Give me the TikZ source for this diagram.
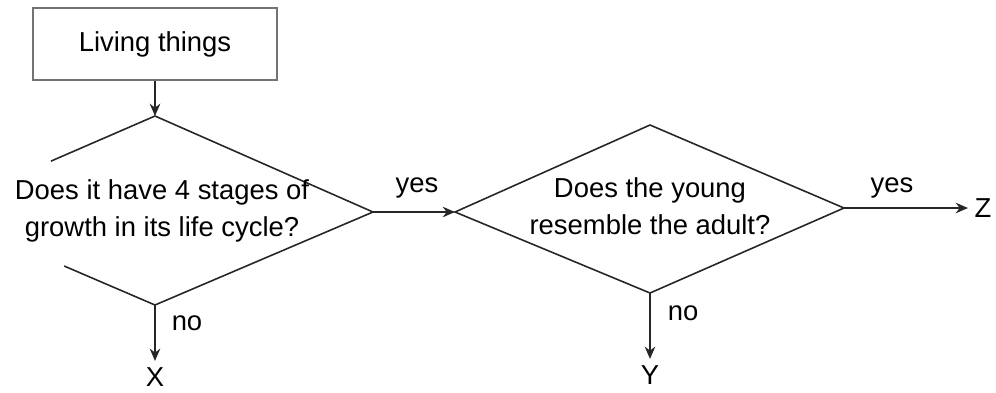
\documentclass[tikz,border=0pt]{standalone}
\usepackage{fontspec}
\setmainfont{Liberation Sans}
\usetikzlibrary{calc, arrows.meta}
\begin{document}
\begin{tikzpicture}[>={Stealth[length=7pt, width=6pt]}, line width=0.9pt, font=\fontsize{15.6}{21}\selectfont]
  \useasboundingbox (0,0) rectangle (19.92,-7.84);

  \node[draw=black!55, minimum width=4.88cm, minimum height=1.44cm] (living) at (3.10,-0.88) {Living things};

  \coordinate (T1) at (3.10,-2.32);
  \coordinate (R1) at (7.46,-4.24);
  \coordinate (B1) at (3.10,-6.10);
  \coordinate (L1) at (-1.28,-4.22);
  \draw[black!85] ($(T1)!0.475!(L1)$) -- (T1) -- (R1) -- (B1) -- ($(B1)!0.415!(L1)$);
  \node[align=center] (stages) at (3.24,-4.22) {Does it have 4 stages of\\growth in its life cycle?};

  \coordinate (L2) at (9.10,-4.24);
  \coordinate (T2) at (13.00,-2.50);
  \coordinate (R2) at (16.88,-4.16);
  \coordinate (B2) at (13.00,-5.86);
  \draw[black!85] (L2) -- (T2) -- (R2) -- (B2) -- cycle;
  \node[align=center] (resemble) at (13.00,-4.12) {Does the young\\resemble the adult?};

  \node (X) at (3.10,-7.54) {X};
  \node (Y) at (13.00,-7.50) {Y};
  \node (Z) at (19.66,-4.16) {Z};

  \draw[->, black!85] (living) -- (T1);
  \draw[->, black!85] (R1) -- (L2);
  \draw[->, black!85] (R2) -- (Z);
  \draw[->, black!85] (B1) -- (X);
  \draw[->, black!85] (B2) -- (Y);

  \node (yes1) at (8.34,-3.76) {yes};
  \node (yes2) at (17.84,-3.76) {yes};
  \node (no1) at (3.74,-6.46) {no};
  \node (no2) at (13.66,-6.26) {no};
\end{tikzpicture}
\end{document}
